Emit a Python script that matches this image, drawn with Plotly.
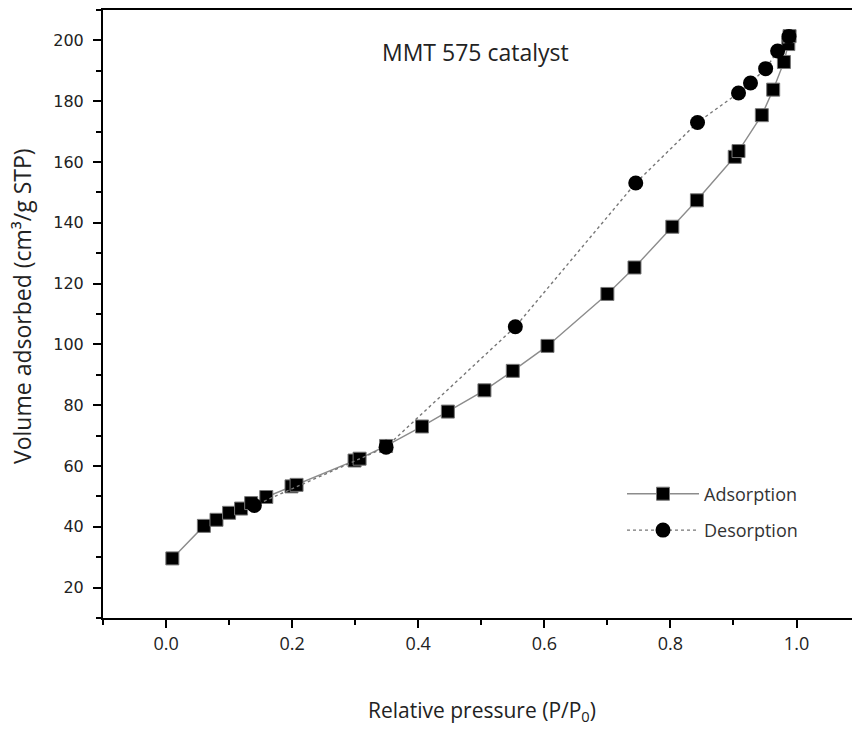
import plotly.graph_objects as go

# Adsorption branch
ads_x = [0.01, 0.06, 0.08, 0.10, 0.119, 0.135, 0.159, 0.199, 0.207, 0.299, 0.307, 0.349,
         0.406, 0.447, 0.505, 0.550, 0.605, 0.700, 0.743, 0.803, 0.842, 0.902, 0.908,
         0.945, 0.963, 0.980, 0.987, 0.989]
ads_y = [29.6, 40.3, 42.3, 44.6, 46.0, 47.8, 49.8, 53.3, 53.8, 61.8, 62.4, 66.6,
         73.0, 77.9, 84.9, 91.3, 99.5, 116.6, 125.3, 138.7, 147.4, 161.7, 163.6,
         175.4, 183.8, 192.9, 198.8, 201.4]

# Desorption branch
des_x = [0.988, 0.970, 0.951, 0.927, 0.908, 0.843, 0.745, 0.554, 0.349, 0.14]
des_y = [201.3, 196.5, 190.7, 186.0, 182.7, 173.0, 153.1, 105.8, 66.2, 47.0]

fig = go.Figure()
fig.add_trace(go.Scatter(
    x=ads_x, y=ads_y, mode="lines+markers", name="Adsorption", legendgroup="a",
    line=dict(color="#8c8c8c", width=1.4),
    marker=dict(symbol="square", size=13, color="black", line=dict(color="#777777", width=1)),
))
fig.add_trace(go.Scatter(
    x=des_x, y=des_y, mode="lines+markers", name="Desorption", legendgroup="b",
    line=dict(color="#777777", width=1.4, dash="dot"),
    marker=dict(symbol="circle", size=15, color="black", line=dict(width=0)),
))

ytickfont = dict(family="DejaVu Sans", size=16, color="#222222")
xtickfont = dict(family="Open Sans", size=18, color="#222222")
W, H = 852, 729
l, r, t, b = 103, 0, 10, 111
pw, ph = W - l - r, H - t - b
def px(xp):
    return (xp - l) / pw
def py(yp):
    return (H - b - yp) / ph

fig.update_layout(
    width=W, height=H,
    margin=dict(l=l, r=r, t=t, b=b),
    paper_bgcolor="white", plot_bgcolor="white",
    showlegend=True,
    legend=dict(x=px(622), y=py(512), xanchor="left", yanchor="middle",
                font=dict(family="Open Sans", size=18, color="#333333"),
                itemwidth=72, tracegroupgap=10, bgcolor="rgba(0,0,0,0)"),
    xaxis=dict(range=[-0.1, 1.088], showgrid=False, zeroline=False,
               showline=True, linecolor="black", linewidth=2, mirror=True,
               ticks="outside", ticklen=8, tickwidth=2, tickcolor="black",
               tick0=0, dtick=0.2, tickformat=".1f", tickfont=xtickfont,
               minor=dict(ticks="outside", ticklen=5, tickwidth=2, tickcolor="black", dtick=0.1, tick0=0)),
    yaxis=dict(range=[10, 210], showgrid=False, zeroline=False,
               showline=True, linecolor="black", linewidth=2,
               ticks="outside", ticklen=8, tickwidth=2, tickcolor="black",
               tick0=0, dtick=20, tickfont=ytickfont, ticklabelstandoff=6,
               minor=dict(ticks="outside", ticklen=5, tickwidth=2, tickcolor="black", dtick=10)),
    annotations=[
        dict(text="MMT 575 catalyst", x=px(475), y=py(52), xref="paper", yref="paper",
             xanchor="center", yanchor="middle",
             showarrow=False, font=dict(family="Open Sans", size=23, color="#222222")),
        dict(text="Relative pressure (P/P<sub>0</sub>)", x=px(482), y=py(711), xref="paper", yref="paper",
             xanchor="center", yanchor="middle",
             showarrow=False, font=dict(family="Open Sans", size=21, color="#222222")),
        dict(text="Volume adsorbed (cm³/g STP)", x=px(22), y=py(306), xref="paper", yref="paper",
             xanchor="center", yanchor="middle",
             textangle=-90, showarrow=False,
             font=dict(family="Open Sans", size=23, color="#222222")),
    ],
)

fig.write_html("out.html")
